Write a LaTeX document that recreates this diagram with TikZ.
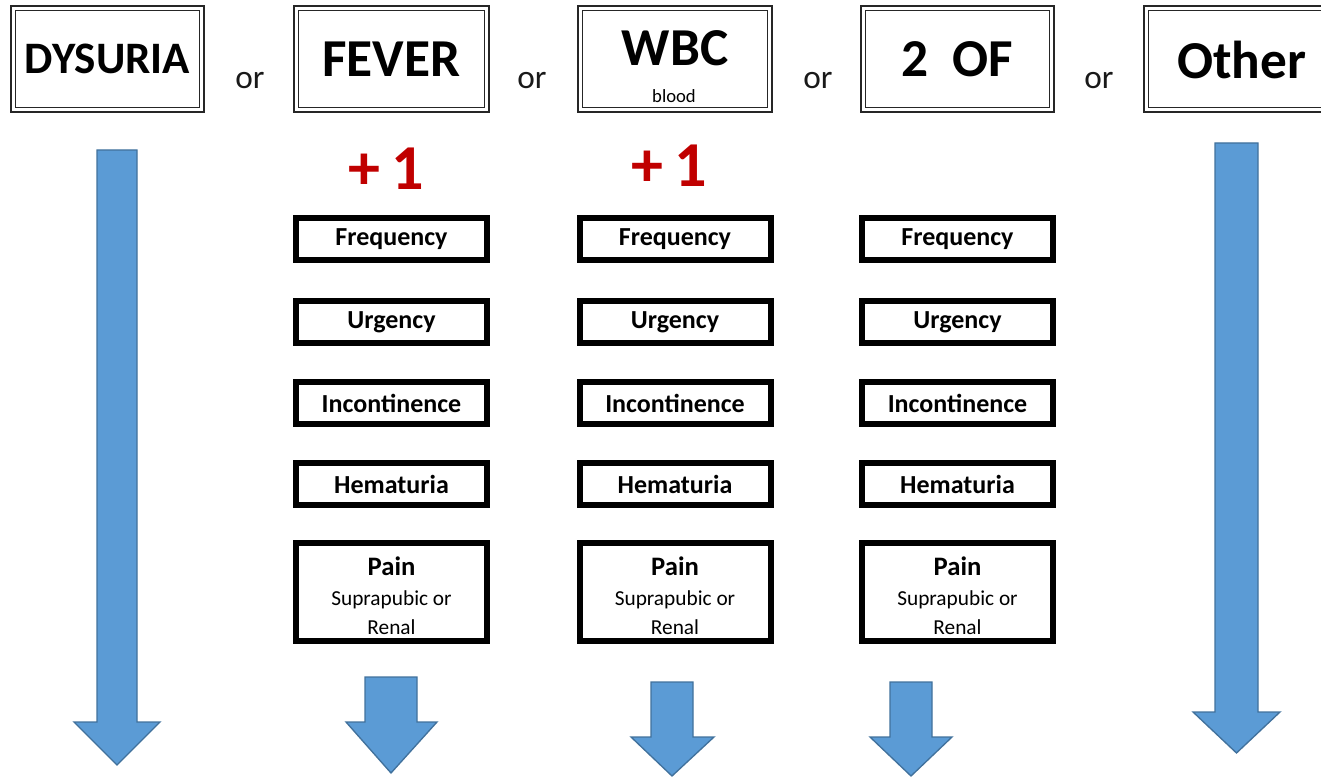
\documentclass[tikz,border=0pt]{standalone}
\usepackage{fontspec}
\setmainfont{Carlito}
\definecolor{arrowblue}{HTML}{5B9BD5}
\definecolor{arrowedge}{HTML}{41719C}
\definecolor{plusred}{HTML}{C00000}
\begin{document}
\begin{tikzpicture}[x=0.75pt,y=-0.75pt,
 topbox/.style={draw=black!85, double=white, line width=1.2pt, double distance=2.4pt, inner sep=0pt, minimum height=76.1pt, font=\bfseries\fontsize{40}{48}\selectfont},
 symbox/.style={draw=black, line width=4.5pt, inner sep=0pt, minimum width=143.25pt, minimum height=31.5pt, font=\bfseries\fontsize{19.5}{23}\selectfont},
 paintitle/.style={inner sep=0pt, font=\bfseries\fontsize{20}{24}\selectfont},
 painsub/.style={inner sep=0pt, font=\fontsize{16}{19}\selectfont},
 ortext/.style={inner sep=0pt, font=\fontsize{25}{30}\selectfont, text=black!90},
 plusone/.style={inner sep=0pt, font=\bfseries\fontsize{48}{56}\selectfont, text=plusred},
 blockarrow/.style={fill=arrowblue, draw=arrowedge, line width=1pt, line join=miter},
]
\useasboundingbox (0,0) rectangle (1321,777);
\clip (0,0) rectangle (1321,777);

% top boxes
\node[topbox, minimum width=141.4pt, font=\bfseries\fontsize{33.75}{40}\selectfont] (dys) at (107.5,59) {DYSURIA};
\node[topbox, minimum width=142.9pt] (fev) at (391.5,59) {FEVER};
\node[topbox, minimum width=142.1pt] (wbc) at (675,59) {};
\node[inner sep=0pt, font=\bfseries\fontsize{40}{48}\selectfont] (wbct) at (675,48.5) {WBC};
\node[inner sep=0pt, font=\fontsize{14}{16}\selectfont] (blood) at (674,96) {blood};
\node[topbox, minimum width=141.4pt] (two) at (957.5,59) {2\ \ OF};
\node[topbox, minimum width=142.5pt] (oth) at (1241.25,59) {};
\node[inner sep=0pt, font=\bfseries\fontsize{40}{48}\selectfont] (otht) at (1241.5,60) {Other};

% or labels
\node[ortext] (or1) at (250,81) {or};
\node[ortext] (or2) at (532,81) {or};
\node[ortext] (or3) at (818,81) {or};
\node[ortext] (or4) at (1099,81) {or};

% +1
\node[plusone] (pl1) at (386,168.5) {+\,1};
\node[plusone] (pl2) at (669,165.5) {+\,1};

% symptom boxes
\foreach \c/\x in {1/391.5, 2/675, 3/957.5} {
  \node[symbox] (f\c) at (\x,239) {Frequency};
  \node[symbox] (u\c) at (\x,322) {Urgency};
  \node[symbox] (i\c) at (\x,403) {Incontinence};
  \node[symbox] (h\c) at (\x,484) {Hematuria};
  \node[symbox, minimum height=73.5pt] (p\c) at (\x,592) {};
  \node[paintitle] (pt\c) at (\x,566) {Pain};
  \node[painsub] (ps\c) at (\x,600) {Suprapubic or};
  \node[painsub] (pr\c) at (\x,627) {Renal};
}

% block arrows
\draw[blockarrow] (97,150) -- (137,150) -- (137,722) -- (160,722) -- (117,765) -- (74,722) -- (97,722) -- cycle;
\draw[blockarrow] (365,677) -- (417,677) -- (417,722) -- (437,722) -- (391,773) -- (346,722) -- (365,722) -- cycle;
\draw[blockarrow] (651,682) -- (693,682) -- (693,737) -- (714,737) -- (672,776) -- (631,737) -- (651,737) -- cycle;
\draw[blockarrow] (890,682) -- (932,682) -- (932,737) -- (952,737) -- (911,776) -- (870,737) -- (890,737) -- cycle;
\draw[blockarrow] (1215,143) -- (1258,143) -- (1258,712) -- (1280,712) -- (1236.5,753) -- (1193,712) -- (1215,712) -- cycle;
\end{tikzpicture}
\end{document}
